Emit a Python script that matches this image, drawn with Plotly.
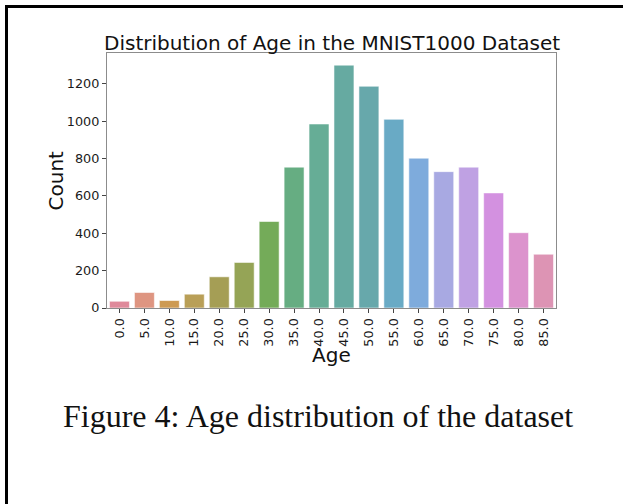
import plotly.graph_objects as go

ages = ["0.0", "5.0", "10.0", "15.0", "20.0", "25.0", "30.0", "35.0", "40.0",
        "45.0", "50.0", "55.0", "60.0", "65.0", "70.0", "75.0", "80.0", "85.0"]
counts = [36, 83, 40, 74, 167, 244, 463, 754, 985,
          1300, 1187, 1010, 802, 730, 754, 616, 403, 288]
bar_colors = ["#df8a9b", "#de9581", "#cd9a52", "#b99f57", "#a59e55", "#95a456",
              "#74ab59", "#66ad82", "#66ad96", "#66aaa1", "#67a8ab", "#69aac5",
              "#7eabdc", "#a8a9e2", "#bfa1e3", "#d391e0", "#dc93cd", "#dd94b4"]

title_text = "Distribution of Age in the MNIST1000 Dataset"
x_title = "Age"
y_title = "Count"
caption = "Figure 4: Age distribution of the dataset"

W, H = 623, 504
L, R, T, B = 107, 556, 53, 308  # plot area in pixels

def px_x(px):
    return (px - L) / (R - L)

def px_y(py):
    return (B - py) / (B - T)

fig = go.Figure(go.Bar(
    x=ages, y=counts,
    marker=dict(color=bar_colors, line=dict(color="rgba(255,255,255,0.55)", width=1)),
))

axis_common = dict(showline=True, linecolor="#8c8c8c", linewidth=1.2, mirror=True,
                   showgrid=False, zeroline=False, ticks="outside", ticklen=4,
                   tickcolor="#444", tickwidth=1,
                   tickfont=dict(family="DejaVu Sans", size=12.8, color="#1a1a1a"))

fig.update_layout(
    width=W, height=H,
    margin=dict(l=L, r=W - R, t=T, b=H - B, autoexpand=False),
    paper_bgcolor="white", plot_bgcolor="white",
    bargap=0.2, showlegend=False,
    xaxis=dict(axis_common, type="category", range=[-0.5, 17.5], tickangle=-90),
    yaxis=dict(axis_common, range=[0, 1365], tickvals=[0, 200, 400, 600, 800, 1000, 1200]),
    annotations=[
        dict(text=title_text, x=0.5, y=px_y(43), xref="paper", yref="paper",
             showarrow=False, xanchor="center", yanchor="middle",
             font=dict(family="DejaVu Sans", size=20, color="#111")),
        dict(text=y_title, x=px_x(55), y=0.5, xref="paper", yref="paper",
             showarrow=False, textangle=-90, xanchor="center", yanchor="middle",
             font=dict(family="DejaVu Sans", size=20, color="#111")),
        dict(text=x_title, x=0.5, y=px_y(355), xref="paper", yref="paper",
             showarrow=False, xanchor="center", yanchor="middle",
             font=dict(family="DejaVu Sans", size=20, color="#111")),
        dict(text=caption, x=px_x(317.5), y=px_y(416), xref="paper", yref="paper",
             showarrow=False, xanchor="center", yanchor="middle",
             font=dict(family="Liberation Serif", size=32, color="#111")),
    ],
    shapes=[
        dict(type="line", xref="paper", yref="paper",
             x0=px_x(6.5), x1=px_x(6.5), y0=px_y(5), y1=px_y(H),
             line=dict(color="black", width=3)),
        dict(type="line", xref="paper", yref="paper",
             x0=px_x(5), x1=px_x(W), y0=px_y(6.5), y1=px_y(6.5),
             line=dict(color="black", width=3)),
    ],
)

fig.write_html("out.html", config={"displayModeBar": False},
               post_script="document.body.style.margin='0';document.body.style.overflow='hidden';")
